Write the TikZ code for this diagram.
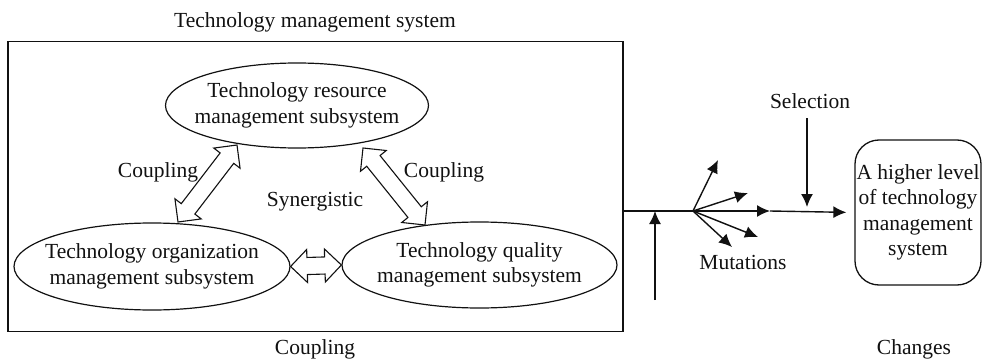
\documentclass[tikz,border=0pt]{standalone}
\usepackage{fontspec}
\setmainfont{Liberation Serif}
\usetikzlibrary{arrows.meta,shapes.geometric,shapes.arrows,calc}
\definecolor{inkc}{HTML}{111111}

\tikzset{
  lbl/.style={font=\fontsize{21.5}{25.5}\selectfont, text=inkc},
  subsys/.style={ellipse, draw=inkc, line width=1.2pt, lbl, align=center,
    inner ysep=0pt, inner xsep=-12pt},
  dblarrow/.style={double arrow, draw=inkc, fill=white, line width=1.1pt,
    inner xsep=0pt, inner ysep=8pt, double arrow head extend=8pt,
    minimum width=32pt},
  flow/.style={-{Latex[length=13pt,width=12pt]}, line width=1.4pt, draw=inkc},
}

% hollow double arrow between two points
\newcommand{\couplearrow}[3]{%
  \path let \p1=(#2), \p2=(#3), \n1={atan2(\y2-\y1,\x2-\x1)},
    \n2={veclen(\x2-\x1,\y2-\y1)} in
    node[dblarrow, minimum height=\n2, rotate=\n1] (#1) at ($(#2)!0.5!(#3)$) {};}

\begin{document}
\begin{tikzpicture}[x=1pt, y=-1pt]
  \useasboundingbox (0,0) rectangle (983,361);

  % technology management system
  \node[draw=inkc, line width=1.3pt, minimum width=615pt, minimum height=290pt,
    inner sep=0pt] (sys) at (315.5,186.5) {};
  \node[lbl] (title) at (315,22) {Technology management system};
  \node[lbl] (cpl) at (315,349) {Coupling};

  \node[subsys, minimum width=263pt, minimum height=85pt] (res) at (297,105.5)
    {Technology resource\\management subsystem};
  \node[subsys, minimum width=276pt, minimum height=87pt] (org) at (152,266.5)
    {Technology organization\\management subsystem};
  \node[subsys, minimum width=275pt, minimum height=86pt] (qual) at (479.5,265)
    {Technology quality\\management subsystem};

  \coordinate (ra) at (237,145);
  \coordinate (oa) at (178,222);
  \coordinate (rb) at (363,148);
  \coordinate (qb) at (425,225);
  \coordinate (ob) at (org.east);
  \coordinate (qa) at (qual.west);
  \couplearrow{c1}{ra}{oa}
  \couplearrow{c2}{rb}{qb}
  \couplearrow{c3}{ob}{qa}

  \node[lbl] (cpll) at (158,172) {Coupling};
  \node[lbl] (cplr) at (444,172) {Coupling};
  \node[lbl] (syn) at (315,202) {Synergistic};

  % evolution
  \coordinate (branch) at (693,211);
  \draw[line width=1.3pt, inkc] (sys.east |- branch) -- (branch);
  \coordinate (inp) at (655,300);
  \draw[flow] (inp) -- (inp |- branch);

  \foreach \i/\p in {1/{718,160}, 2/{748,193}, 3/{770,211}, 4/{758,237}, 5/{732,247}}{
    \coordinate (m\i) at (\p);
    \draw[flow] (branch) -- (m\i);
  }
  \node[lbl] (mut) at (743,262) {Mutations};

  \node[draw=inkc, line width=1.3pt, rounded corners=24pt, lbl, align=center,
    minimum width=126pt, minimum height=145pt, inner sep=0pt] (higher) at (918,212.5)
    {A higher level\\of technology\\management\\system};
  \draw[flow, shorten >=8pt] (m3) -- (higher.west);

  \node[lbl] (sel) at (810,101) {Selection};
  \draw[flow] (sel.south) ++(-3,6) coordinate (s0) -- (s0 |- 0,207);
  \node[lbl] (chg) at (914,349) {Changes};
\end{tikzpicture}
\end{document}
